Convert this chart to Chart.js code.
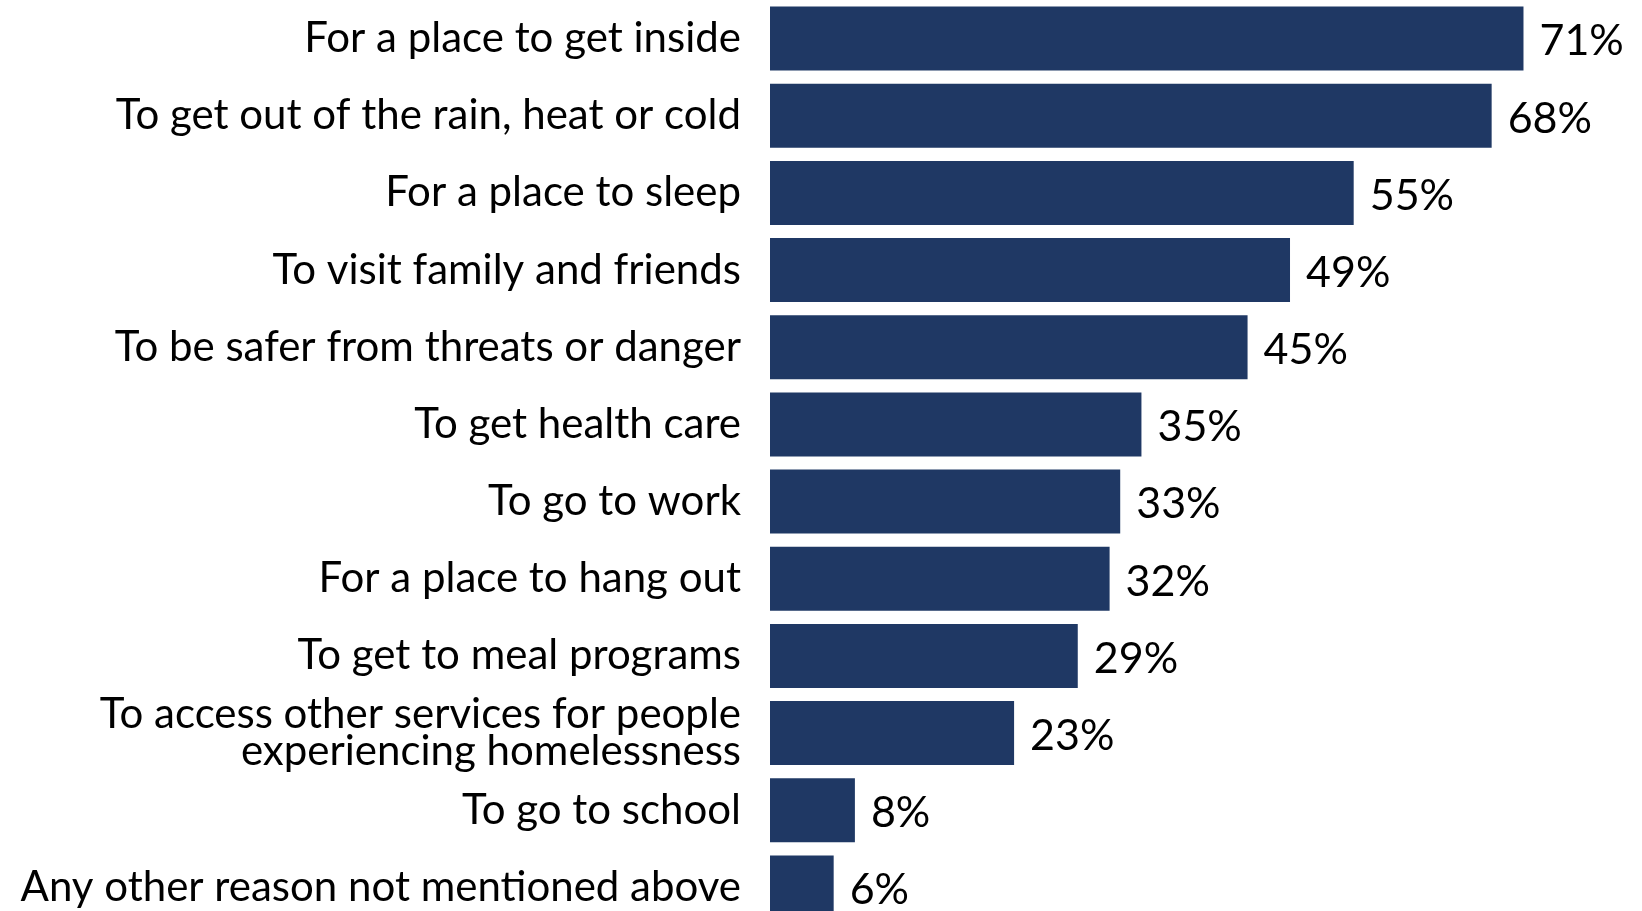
<!DOCTYPE html>
<html>
<head>
<meta charset="utf-8">
<script src="https://cdn.jsdelivr.net/npm/chart.js@4"></script>
<style>
  html, body { margin: 0; padding: 0; background: #fff; overflow: hidden; }
  #wrap { width: 1642px; height: 926px; }
</style>
</head>
<body>
<div id="wrap"><canvas id="chart"></canvas></div>
<script>
// reasons, in display order (top to bottom)
const reasons = [
    'For a place to get inside',
    'To get out of the rain, heat or cold',
    'For a place to sleep',
    'To visit family and friends',
    'To be safer from threats or danger',
    'To get health care',
    'To go to work',
    'For a place to hang out',
    'To get to meal programs',
    ['To access other services for people', 'experiencing homelessness'],
    'To go to school',
    'Any other reason not mentioned above'
];
const percents = [71, 68, 55, 49, 45, 35, 33, 32, 29, 23, 8, 6];

const FONT = 'Lato';
const barColor = '#1F3864';

// draws "71%" etc. to the right of each bar
const valueLabels = {
    id: 'valueLabels',
    afterDatasetsDraw(chart) {
        const ctx = chart.ctx;
        const meta = chart.getDatasetMeta(0);
        ctx.save();
        ctx.fillStyle = '#000';
        ctx.font = '43px ' + FONT;
        ctx.textAlign = 'left';
        ctx.textBaseline = 'middle';
        meta.data.forEach((bar, i) => {
            ctx.fillText(percents[i] + '%', bar.x + 16, bar.y + 3);
        });
        ctx.restore();
    }
};

const ctx = document.getElementById('chart').getContext('2d');
const chart = new Chart(ctx, {
    type: 'bar',
    data: {
        labels: reasons,
        datasets: [{
            data: percents,
            backgroundColor: barColor,
            barPercentage: 0.83,
            categoryPercentage: 1.0
        }]
    },
    options: {
        indexAxis: 'y',
        responsive: true,
        maintainAspectRatio: false,
        animation: false,
        layout: { padding: { top: 0, bottom: 0, left: 0, right: 23 } },
        plugins: {
            legend: { display: false },
            tooltip: { enabled: false }
        },
        scales: {
            x: {
                display: false,
                min: 0,
                max: 80
            },
            y: {
                grid: { display: false, drawTicks: false },
                border: { display: false },
                afterFit: (scale) => {
                    scale.width = 770;
                    scale.paddingTop = 0;
                    scale.paddingBottom = 0;
                },
                ticks: {
                    color: '#000',
                    padding: 29,
                    autoSkip: false,
                    font: { family: FONT, size: 42, lineHeight: 0.88 }
                }
            }
        }
    },
    plugins: [valueLabels]
});
</script>
</body>
</html>
